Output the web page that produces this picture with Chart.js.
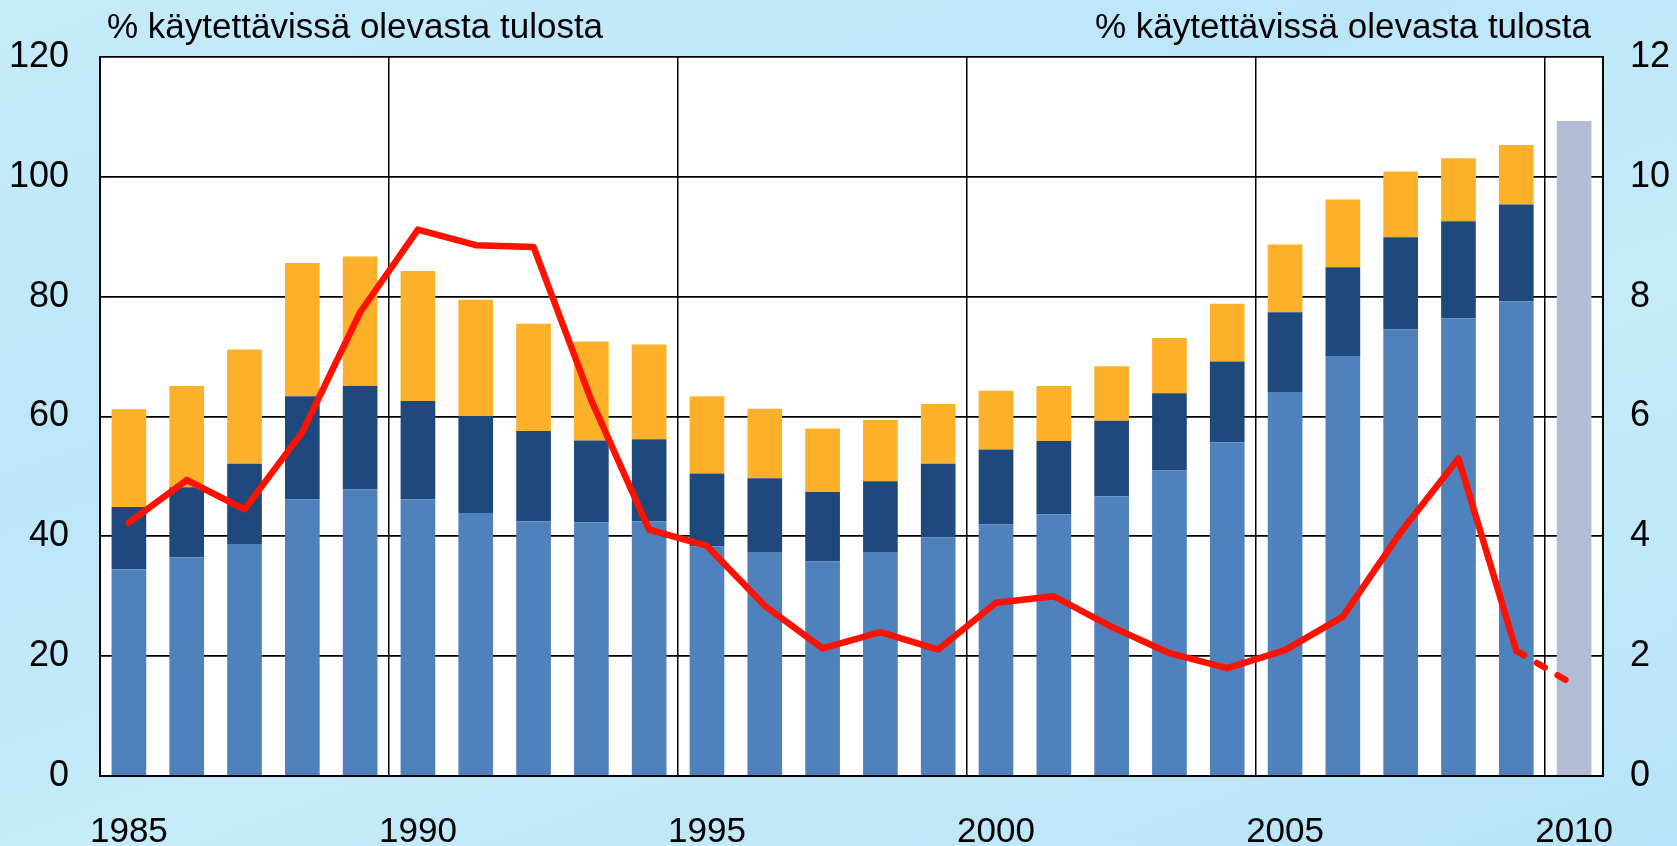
<!DOCTYPE html>
<html>
<head>
<meta charset="utf-8">
<script src="https://cdn.jsdelivr.net/npm/chart.js@4"></script>
<style>
  html, body { margin: 0; padding: 0; }
  body {
    width: 1677px; height: 846px; overflow: hidden;
    background: linear-gradient(160deg, #c6ebfa 0%, #bbe6f9 35%, #c6ebfa 60%, #b7e4f8 100%);
  }
  #wrap { position: relative; width: 1677px; height: 846px; }
</style>
</head>
<body>
<div id="wrap"><canvas id="chart"></canvas></div>
<script>
const years = [1985, 1986, 1987, 1988, 1989, 1990, 1991, 1992, 1993, 1994, 1995, 1996, 1997,
               1998, 1999, 2000, 2001, 2002, 2003, 2004, 2005, 2006, 2007, 2008, 2009, 2010];

// stacked bar segments, % of disposable income (left axis)
const lightPart = [34.5, 36.5, 38.7, 46.2, 47.8, 46.2, 43.9, 42.5, 42.3, 42.5, 38.3, 37.4, 35.8,
                   37.4, 39.8, 42.0, 43.7, 46.7, 51.0, 55.7, 64.1, 70.1, 74.5, 76.4, 79.2, null];
const darkPart  = [10.4, 11.7, 13.4, 17.2, 17.3, 16.4, 16.2, 15.1, 13.7, 13.7, 12.2, 12.3, 11.6,
                   11.8, 12.3, 12.5, 12.2, 12.6, 12.9, 13.5, 13.3, 14.8, 15.4, 16.2, 16.2, null];
const orangePart = [16.3, 16.9, 19.1, 22.2, 21.6, 21.7, 19.4, 17.9, 16.5, 15.8, 12.9, 11.6, 10.6,
                    10.2, 10.0, 9.8, 9.2, 9.1, 9.2, 9.6, 11.3, 11.3, 11.0, 10.5, 9.9, null];
const estimate2010 = [null, null, null, null, null, null, null, null, null, null, null, null, null,
                      null, null, null, null, null, null, null, null, null, null, null, null, 109.3];

// red line, right axis
const lineVals = [4.23, 4.94, 4.45, 5.74, 7.74, 9.12, 8.86, 8.83, 6.27, 4.11, 3.84, 2.84, 2.13,
                  2.40, 2.11, 2.89, 3.00, 2.49, 2.05, 1.80, 2.10, 2.66, 4.07, 5.30, 2.09, 1.52];

const leftTicks = [0, 20, 40, 60, 80, 100, 120];
const rightTicks = [0, 2, 4, 6, 8, 10, 12];
const titleText = '% käytettävissä olevasta tulosta';

const FONT = 'Arial, "Liberation Sans", sans-serif';

const plotBackground = {
  id: 'plotBackground',
  beforeDraw(chart) {
    const { ctx, chartArea: a } = chart;
    ctx.save();
    ctx.fillStyle = '#ffffff';
    ctx.fillRect(a.left, a.top, a.right - a.left, a.bottom - a.top);
    ctx.restore();
  }
};

const axisTitles = {
  id: 'axisTitles',
  afterDraw(chart) {
    const ctx = chart.ctx;
    ctx.save();
    ctx.font = '35px ' + FONT;
    ctx.fillStyle = '#000';
    ctx.textBaseline = 'alphabetic';
    ctx.textAlign = 'left';
    ctx.fillText(titleText, 107, 38);
    ctx.textAlign = 'right';
    ctx.fillText(titleText, 1591, 38);
    ctx.restore();
  }
};

const barDs = (label, data, color) => ({
  type: 'bar',
  label: label,
  data: data,
  backgroundColor: color,
  borderWidth: 0,
  yAxisID: 'y',
  stack: 's',
  order: 1,
  barPercentage: 0.6,
  categoryPercentage: 1.0
});

new Chart(document.getElementById('chart'), {
  data: {
    labels: years,
    datasets: [
      {
        type: 'line',
        label: 'line',
        data: lineVals,
        yAxisID: 'y1',
        borderColor: '#ff1100',
        borderWidth: 6.5,
        pointRadius: 0,
        borderCapStyle: 'round',
        borderJoinStyle: 'round',
        tension: 0,
        order: 0,
        segment: {
          borderDash: ctx => ctx.p1DataIndex === years.length - 1 ? [9, 15] : undefined
        }
      },
      barDs('a', lightPart, '#4f81bd'),
      barDs('b', darkPart, '#1f497d'),
      barDs('c', orangePart, '#fdb02a'),
      barDs('d', estimate2010, '#b2bcd6')
    ]
  },
  options: {
    responsive: true,
    maintainAspectRatio: false,
    animation: false,
    layout: { padding: { top: 57, left: 0, right: 0, bottom: 0 } },
    plugins: {
      legend: { display: false },
      tooltip: { enabled: false }
    },
    scales: {
      x: {
        stacked: true,
        offset: true,
        grid: {
          offset: true,
          drawTicks: false,
          lineWidth: 1.5,
          color: ctx => (ctx.tick && ctx.index > 0 && years[ctx.index] % 5 === 0) ? '#000' : 'rgba(0,0,0,0)'
        },
        border: { display: true, color: '#000', width: 2 },
        ticks: {
          autoSkip: false,
          maxRotation: 0,
          padding: 35,
          color: '#000',
          font: { size: 35, family: FONT },
          callback: (v, i) => years[i] % 5 === 0 ? String(years[i]) : ''
        },
        afterFit: s => { s.height = 70; }
      },
      y: {
        position: 'left',
        stacked: true,
        min: 0,
        max: 120,
        afterBuildTicks: s => { s.ticks = leftTicks.map(v => ({ value: v })); },
        grid: { color: '#000', lineWidth: 1.8, drawTicks: false },
        border: { display: true, color: '#000', width: 2 },
        ticks: {
          padding: 31,
          color: '#000',
          font: { size: 36, family: FONT }
        },
        afterFit: s => { s.width = 100; }
      },
      y1: {
        position: 'right',
        min: 0,
        max: 12,
        afterBuildTicks: s => { s.ticks = rightTicks.map(v => ({ value: v })); },
        grid: { display: false, drawTicks: false },
        border: { display: true, color: '#000', width: 2 },
        ticks: {
          padding: 27,
          color: '#000',
          font: { size: 36, family: FONT }
        },
        afterFit: s => { s.width = 74; }
      }
    }
  },
  plugins: [plotBackground, axisTitles]
});
</script>
</body>
</html>
